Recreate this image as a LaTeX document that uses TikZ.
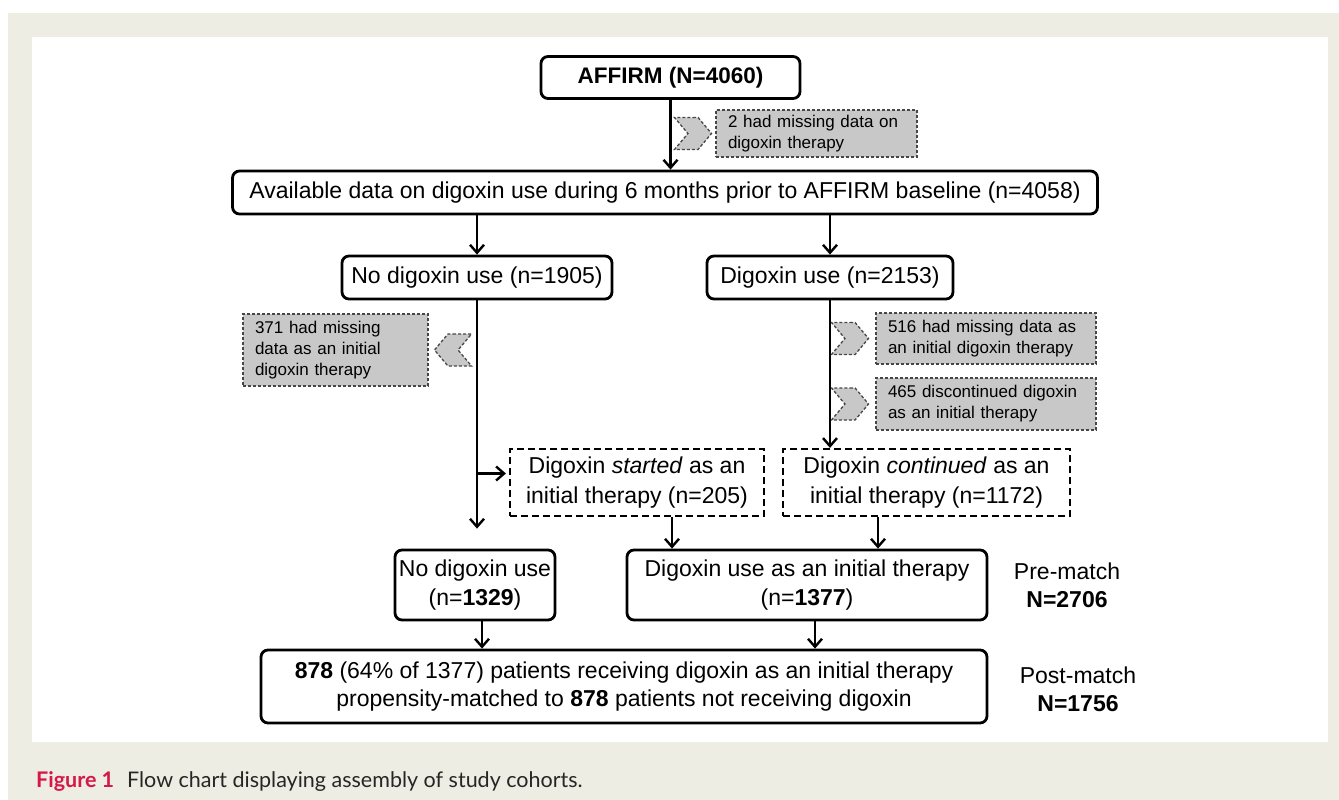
\documentclass[tikz,border=0pt]{standalone}
\usepackage{fontspec}
\setmainfont{Liberation Sans}
\newfontfamily\capfont{Lato}
\usetikzlibrary{arrows.meta,positioning,shapes.symbols}
\definecolor{panelbg}{RGB}{238,237,227}
\definecolor{notefill}{RGB}{200,200,200}
\definecolor{notedraw}{RGB}{70,70,70}
\definecolor{figred}{RGB}{214,24,72}

\begin{document}
\begin{tikzpicture}[x=1pt,y=-1pt,
		rbox/.style={draw=black, line width=2.8pt, rounded corners=7pt, inner sep=0pt, align=center, font=\fontsize{23}{28.5}\selectfont},
		dbox/.style={draw=black, line width=2.2pt, dash pattern=on 7pt off 4pt, inner sep=0pt, align=center, font=\fontsize{23}{29.5}\selectfont},
		note/.style={draw=notedraw, fill=notefill, line width=1.3pt, dash pattern=on 3pt off 2pt, inner xsep=12pt, inner ysep=0pt, align=left, font=\fontsize{17}{21}\selectfont},
		chev/.style={signal, draw=notedraw, fill=notefill, line width=1.3pt, dash pattern=on 3pt off 2pt, inner sep=0pt, minimum width=37pt, minimum height=32pt, signal pointer angle=100},
		arr/.style={line width=2.4pt, -{Straight Barb[length=8pt,width=14pt]}},
		side/.style={align=center, font=\fontsize{23}{28}\selectfont}]

	% page, frame and panel
	\fill[white] (0,0) rectangle (1339,800);
	\fill[panelbg] (8,13) rectangle (1339,800);
	\fill[white] (32,37) rectangle (1328,742);

	\node[rbox, font=\bfseries\fontsize{22.5}{27}\selectfont, minimum width=259pt, minimum height=42pt] (affirm) at (670.5,77.5) {AFFIRM (N=4060)};
	\node[note, text width=177pt, minimum height=47pt] (miss2) at (816.5,133.5) {2 had missing data on\\digoxin therapy};
	\node[chev, signal to=east, signal from=west] (chev2) [left=3pt of miss2] {};

	\node[rbox, minimum width=865pt, minimum height=43pt] (avail) at (665,192.5) {Available data on digoxin use during 6 months prior to AFFIRM baseline (n=4058)};
	\node[rbox, minimum width=270pt, minimum height=43pt] (nodig) at (477,277.5) {No digoxin use (n=1905)};
	\node[rbox, minimum width=246pt, minimum height=43pt] (dig) at (830,277.5) {Digoxin use (n=2153)};

	\node[note, text width=161pt, minimum height=72pt] (miss371) at (335.5,350) {371 had missing\\data as an initial\\digoxin therapy};
	\node[chev, signal to=west, signal from=east] (chev371) [right=5pt of miss371] {};
	\node[note, text width=196pt, minimum height=51pt] (miss516) at (986,338.5) {516 had missing data as\\an initial digoxin therapy};
	\node[chev, signal to=east, signal from=west] (chev516) [left=6pt of miss516] {};
	\node[note, text width=196pt, minimum height=52pt] (disc465) at (986,404) {465 discontinued digoxin\\as an initial therapy};
	\node[chev, signal to=east, signal from=west] (chev465) [left=6pt of disc465] {};

	\node[dbox, minimum width=254pt, minimum height=67pt] (started) at (637,482.5) {Digoxin \emph{started} as an\\initial therapy (n=205)};
	\node[dbox, minimum width=287pt, minimum height=67pt] (continued) at (926.5,482.5) {Digoxin \emph{continued} as an\\initial therapy (n=1172)};

	\node[rbox, minimum width=160pt, minimum height=70pt] (nodig2) at (475,585) {No digoxin use\\(n=\textbf{1329})};
	\node[rbox, minimum width=360pt, minimum height=70pt] (diginit) at (807,585) {Digoxin use as an initial therapy\\(n=\textbf{1377})};
	\node[rbox, font=\fontsize{23}{28}\selectfont, minimum width=726pt, minimum height=73pt] (matched) at (624,686.5) {\textbf{878} (64\% of 1377) patients receiving digoxin as an initial therapy\\propensity-matched to \textbf{878} patients not receiving digoxin};

	\node[side] (prematch) at (1067,585) {Pre-match\\\textbf{N=2706}};
	\node[side] (postmatch) at (1078,689) {Post-match\\\textbf{N=1756}};

	% connectors
	\draw[arr] (affirm.south) -- (affirm.south |- avail.north);
	\draw[arr] (avail.south -| nodig.north) -- (nodig.north);
	\draw[arr] (avail.south -| dig.north) -- (dig.north);
	\draw[arr] (dig.south) -- (dig.south |- continued.north);
	\draw[arr, shorten >=20pt] (nodig.south) -- (nodig.south |- nodig2.north);
	\coordinate (branch) at ([yshift=9pt]started.west);
	\draw[arr, shorten >=3pt] (nodig.south |- branch) -- (branch);
	\coordinate (fromstarted) at ([xshift=35pt]started.south);
	\draw[arr] (fromstarted) -- (fromstarted |- diginit.north);
	\coordinate (fromcont) at ([xshift=-48.5pt]continued.south);
	\draw[arr] (fromcont) -- (fromcont |- diginit.north);
	\coordinate (fromnodig) at ([xshift=7pt]nodig2.south);
	\draw[arr] (fromnodig) -- (fromnodig |- matched.north);
	\coordinate (fromdig) at ([xshift=8pt]diginit.south);
	\draw[arr] (fromdig) -- (fromdig |- matched.north);

	\node[anchor=base west, inner sep=0pt, font=\capfont\fontsize{21.5}{26}\selectfont, text=black!85] (caption) at (36,787) {\textcolor{figred}{\bfseries Figure 1}\hspace{13pt}Flow chart displaying assembly of study cohorts.};
\end{tikzpicture}
\end{document}
